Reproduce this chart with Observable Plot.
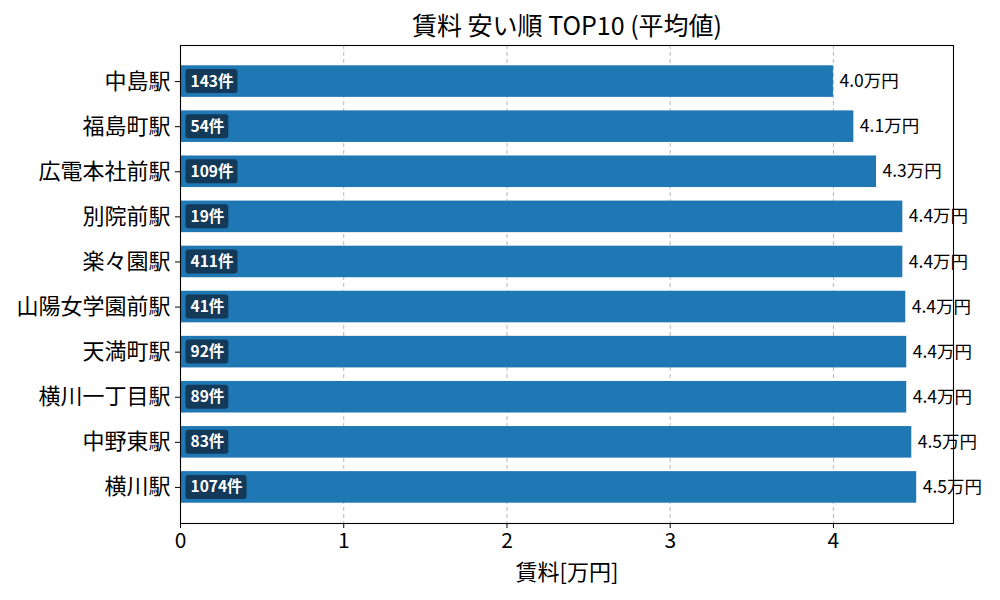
<!DOCTYPE html>
<html>
<head>
<meta charset="utf-8">
<script src="https://cdn.jsdelivr.net/npm/d3@7"></script>
<script src="https://cdn.jsdelivr.net/npm/@observablehq/plot@0.6"></script>
<style>
  html, body { margin: 0; padding: 0; background: #fff; }
  #chart svg { font-family: "Noto Sans CJK JP", "Noto Sans", sans-serif; }
</style>
</head>
<body>
<div id="chart"></div>
<script>
const stations = ["中島駅", "福島町駅", "広電本社前駅", "別院前駅", "楽々園駅", "山陽女学園前駅", "天満町駅", "横川一丁目駅", "中野東駅", "横川駅"];
const rents = [4.00, 4.125, 4.264, 4.425, 4.425, 4.443, 4.449, 4.449, 4.48, 4.51];
const counts = [143, 54, 109, 19, 411, 41, 92, 89, 83, 1074];
const xTicks = [0, 1, 2, 3, 4];
const titleText = "賃料 安い順 TOP10 (平均値)";
const xLabel = "賃料[万円]";

const data = stations.map((s, i) => ({station: s, rent: rents[i], count: counts[i]}));

const chart = Plot.plot({
  width: 1000,
  height: 600,
  marginLeft: 180,
  marginRight: 47,
  marginTop: 45,
  marginBottom: 77,
  style: {fontFamily: '"Noto Sans CJK JP", "Noto Sans", sans-serif', background: "#fff"},
  x: {domain: [0, Math.max(...rents) * 1.05]},
  y: {domain: stations, paddingInner: 0.3, paddingOuter: 0.45, round: false},
  marks: [
    Plot.gridX([1, 2, 3, 4], {stroke: "#b0b0b0", strokeOpacity: 1, strokeDasharray: "4,3", strokeWidth: 0.9}),
    Plot.barX(data, {x: "rent", y: "station", fill: "#1f77b4"}),
    Plot.text(data, {
      x: () => 0, y: "station", text: d => d.count + "件",
      textAnchor: "start", dx: 10, fill: "#fff", fontWeight: "bold", fontSize: 15.5,
      className: "badge"
    }),
    Plot.text(data, {
      x: "rent", y: "station", text: d => d.rent.toFixed(1) + "万円",
      textAnchor: "start", dx: 6, fill: "#000", fontSize: 17.5
    }),
    Plot.frame({stroke: "#000", strokeWidth: 1.1}),
    Plot.axisX({ticks: xTicks, tickFormat: d => String(d), tickSize: 5, tickPadding: 5, fontSize: 21, label: null, color: "#000"}),
    Plot.axisY({tickSize: 5, tickPadding: 5, fontSize: 22, label: null, color: "#000"}),
    Plot.text([titleText], {frameAnchor: "top", dy: -19, lineAnchor: "middle", fontSize: 25, fill: "#000"}),
    Plot.text([xLabel], {frameAnchor: "bottom", dy: 49, lineAnchor: "middle", fontSize: 22, fill: "#000"})
  ]
});

document.getElementById("chart").appendChild(chart);

// Draw rounded badge boxes behind the count labels, sized from the rendered text
d3.select(chart).selectAll("g.badge text").each(function() {
  const b = this.getBBox();
  const cy = b.y + b.height / 2 + 1.5;
  const rect = document.createElementNS("http://www.w3.org/2000/svg", "rect");
  rect.setAttribute("x", b.x - 5);
  rect.setAttribute("y", cy - 12);
  rect.setAttribute("width", b.width + 9);
  rect.setAttribute("height", 24);
  rect.setAttribute("rx", 3);
  rect.setAttribute("fill", "#133a59");
  const t = this.getAttribute("transform");
  if (t) rect.setAttribute("transform", t);
  this.parentNode.insertBefore(rect, this);
});
</script>
</body>
</html>
